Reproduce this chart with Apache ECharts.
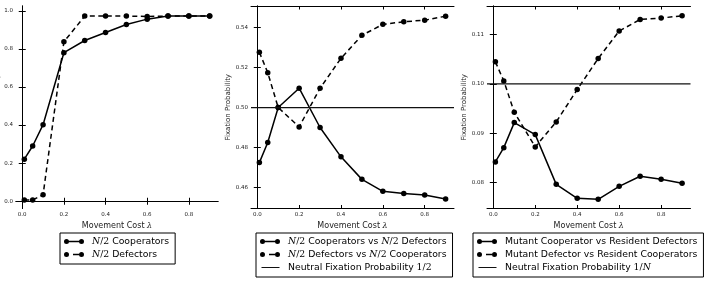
<!DOCTYPE html>
<html>
<head>
<meta charset="utf-8">
<script src="https://cdn.jsdelivr.net/npm/echarts@6/dist/echarts.min.js"></script>
<style>
  html, body { margin: 0; padding: 0; background: #fff; }
  #chart { width: 706px; height: 282px; }
</style>
</head>
<body>
<div id="chart"></div>
<script>
// movement cost values (shared by the three panels)
var costs = [0.01, 0.05, 0.1, 0.2, 0.3, 0.4, 0.5, 0.6, 0.7, 0.8, 0.9];

// left panel
var coopHalf = [0.221, 0.29, 0.402, 0.78, 0.844, 0.886, 0.928, 0.956, 0.972, 0.972, 0.972];
var defHalf = [0.007, 0.007, 0.034, 0.837, 0.972, 0.972, 0.972, 0.970, 0.972, 0.972, 0.972];

// middle panel
var coopVsDef = [0.4724, 0.4825, 0.500, 0.5097, 0.490, 0.4753, 0.464, 0.458, 0.4569, 0.4562, 0.4542];
var defVsCoop = [0.5277, 0.5175, 0.500, 0.4903, 0.5097, 0.5247, 0.5362, 0.5417, 0.543, 0.5438, 0.5458];
var neutralHalf = 0.5;

// right panel
var mutantCoop = [0.08415, 0.08705, 0.09213, 0.0897, 0.0796, 0.07677, 0.07657, 0.0792, 0.08124, 0.08063, 0.07982];
var mutantDef = [0.10447, 0.1006, 0.09425, 0.0872, 0.09228, 0.09884, 0.10514, 0.11071, 0.11307, 0.11335, 0.11382];
var neutralOneN = 0.10;

// tick labels
var xTicks = [0, 0.2, 0.4, 0.6, 0.8];
var yTicks1 = [0, 0.2, 0.4, 0.6, 0.8, 1.0];
var yTicks2 = [0.46, 0.48, 0.50, 0.52, 0.54];
var yTicks3 = [0.08, 0.09, 0.10, 0.11];

var xRange = [-0.03, 0.94];
var yRange1 = [-0.038, 1.025];
var yRange2 = [0.4494, 0.5509];
var yRange3 = [0.0747, 0.1158];

function pairs(ys) {
  return costs.map(function (x, i) { return [x, ys[i]]; });
}
function flat(v) {
  return [[xRange[0], v], [xRange[1], v]];
}

var myChart = echarts.init(document.getElementById('chart'));

// outerBoundsMode none: the first y-axis title is allowed to run off the left edge
var grids = [
  { left: 16, top: 6, width: 202, height: 202.5, outerBoundsMode: 'none' },
  { left: 251, top: 6, width: 203, height: 202.5, outerBoundsMode: 'none' },
  { left: 487, top: 6, width: 203.5, height: 202.5, outerBoundsMode: 'none' }
];

var tickStyle = { color: '#222', fontSize: 5.5, fontFamily: 'DejaVu Sans' };
var lineAx = { show: true, lineStyle: { color: '#000', width: 1 } };

var xAxes = [], yAxes = [];
[0, 1, 2].forEach(function (g) {
  xAxes.push({
    type: 'value', gridIndex: g, min: xRange[0], max: xRange[1], position: 'bottom',
    axisLine: lineAx,
    axisTick: { inside: true, length: 3.5, customValues: xTicks, lineStyle: { color: '#000' } },
    axisLabel: Object.assign({ customValues: xTicks, margin: 3,
      formatter: function (v) { return v.toFixed(1); } }, tickStyle),
    splitLine: { show: false },
    name: '{t|Movement Cost }{l|λ}', nameLocation: 'middle', nameGap: 10,
    nameTextStyle: { color: '#222', fontSize: 8,
      rich: { t: { fontSize: 8, fontFamily: 'DejaVu Sans', color: '#222' },
              l: { fontSize: 8, fontFamily: 'DejaVu Serif', fontStyle: 'italic', color: '#222' } } }
  });
  xAxes.push({
    type: 'value', gridIndex: g, min: xRange[0], max: xRange[1], position: 'top',
    axisLine: lineAx,
    axisTick: { inside: true, length: 3.5, customValues: xTicks, lineStyle: { color: '#000' } },
    axisLabel: { show: false }, splitLine: { show: false }
  });
});

var yDefs = [
  { range: yRange1, ticks: yTicks1, dec: 1 },
  { range: yRange2, ticks: yTicks2, dec: 2 },
  { range: yRange3, ticks: yTicks3, dec: 2 }
];
yDefs.forEach(function (d, g) {
  yAxes.push({
    type: 'value', gridIndex: g, min: d.range[0], max: d.range[1], position: 'left',
    axisLine: lineAx,
    axisTick: { inside: true, length: 3.5, customValues: d.ticks, lineStyle: { color: '#000' } },
    axisLabel: Object.assign({ customValues: d.ticks, margin: 3,
      formatter: function (v) { return v.toFixed(d.dec); } }, tickStyle),
    splitLine: { show: false },
    name: 'Fixation Probability', nameLocation: 'middle',
    nameGap: g === 0 ? 13.5 : 19,
    nameTextStyle: { color: g === 0 ? '#999' : '#222', fontSize: 7, fontFamily: 'DejaVu Sans' }
  });
  yAxes.push({
    type: 'value', gridIndex: g, min: d.range[0], max: d.range[1], position: 'right',
    axisLine: lineAx,
    axisTick: { inside: true, length: 3.5, customValues: d.ticks, lineStyle: { color: '#000' } },
    axisLabel: { show: false }, splitLine: { show: false }
  });
});

var solidIcon = 'path://M0,2.5A2.5,2.5 0 1,1 5,2.5A2.5,2.5 0 1,1 0,2.5Z' +
  'M2.5,1.85L17.5,1.85L17.5,3.15L2.5,3.15Z' +
  'M15,2.5A2.5,2.5 0 1,1 20,2.5A2.5,2.5 0 1,1 15,2.5Z';
var dashIcon = 'path://M0,2.5A2.5,2.5 0 1,1 5,2.5A2.5,2.5 0 1,1 0,2.5Z' +
  'M9,1.85L15,1.85L15,3.15L9,3.15Z' +
  'M15,2.5A2.5,2.5 0 1,1 20,2.5A2.5,2.5 0 1,1 15,2.5Z';
var plainIcon = 'path://M0,0L0.01,0L0.01,0.01Z M0,5L0.01,5L0.01,4.99Z M1,1.9L19,1.9L19,3.1L1,3.1Z';

function markSeries(name, ys, g, dashed) {
  return {
    name: name, type: 'line', xAxisIndex: g * 2, yAxisIndex: g * 2,
    data: pairs(ys), symbol: 'circle', symbolSize: 5.5,
    itemStyle: { color: '#000' },
    lineStyle: { color: '#000', width: 1.5, type: dashed ? [5, 3.5] : 'solid' },
    z: 3
  };
}
function neutralSeries(name, v, g) {
  return {
    name: name, type: 'line', xAxisIndex: g * 2, yAxisIndex: g * 2,
    data: flat(v), symbol: 'none', itemStyle: { color: '#111' },
    lineStyle: { color: '#111', width: 1.2 }, z: 4
  };
}

var names = {
  a1: 'N/2 Cooperators', a2: 'N/2 Defectors',
  b1: 'N/2 Cooperators vs N/2 Defectors', b2: 'N/2 Defectors vs N/2 Cooperators',
  b3: 'Neutral Fixation Probability 1/2',
  c1: 'Mutant Cooperator vs Resident Defectors', c2: 'Mutant Defector vs Resident Cooperators',
  c3: 'Neutral Fixation Probability 1/N'
};
var legendRich = {};
legendRich[names.a1] = '{m|N}{s|/2} Cooperators';
legendRich[names.a2] = '{m|N}{s|/2} Defectors';
legendRich[names.b1] = '{m|N}{s|/2} Cooperators vs {m|N}{s|/2} Defectors';
legendRich[names.b2] = '{m|N}{s|/2} Defectors vs {m|N}{s|/2} Cooperators';
legendRich[names.b3] = 'Neutral Fixation Probability {s|1/2}';
legendRich[names.c1] = names.c1;
legendRich[names.c2] = names.c2;
legendRich[names.c3] = 'Neutral Fixation Probability {s|1/}{m|N}';

function makeLegend(left, items) {
  return {
    orient: 'vertical', left: left, top: 233,
    data: items,
    itemWidth: 20, itemHeight: 5, itemGap: 2,
    padding: [3, 6, 4, 4],
    borderColor: '#000', borderWidth: 1, backgroundColor: '#fff',
    selectedMode: false,
    formatter: function (n) { return legendRich[n]; },
    textStyle: {
      color: '#000', fontSize: 9.3, fontFamily: 'DejaVu Sans', lineHeight: 11,
      padding: [0, 0, 0, 3],
      rich: {
        m: { fontSize: 9.3, fontFamily: 'DejaVu Serif', fontStyle: 'italic', color: '#000' },
        s: { fontSize: 9.3, fontFamily: 'DejaVu Serif', color: '#000' }
      }
    }
  };
}

var option = {
  animation: false,
  backgroundColor: '#fff',
  grid: grids,
  xAxis: xAxes,
  yAxis: yAxes,
  legend: [
    makeLegend(60, [{ name: names.a1, icon: solidIcon }, { name: names.a2, icon: dashIcon }]),
    makeLegend(256, [{ name: names.b1, icon: solidIcon }, { name: names.b2, icon: dashIcon },
                     { name: names.b3, icon: plainIcon }]),
    makeLegend(473, [{ name: names.c1, icon: solidIcon }, { name: names.c2, icon: dashIcon },
                     { name: names.c3, icon: plainIcon }])
  ],
  series: [
    markSeries(names.a1, coopHalf, 0, false),
    markSeries(names.a2, defHalf, 0, true),
    markSeries(names.b1, coopVsDef, 1, false),
    markSeries(names.b2, defVsCoop, 1, true),
    neutralSeries(names.b3, neutralHalf, 1),
    markSeries(names.c1, mutantCoop, 2, false),
    markSeries(names.c2, mutantDef, 2, true),
    neutralSeries(names.c3, neutralOneN, 2)
  ]
};

myChart.setOption(option);
</script>
</body>
</html>
